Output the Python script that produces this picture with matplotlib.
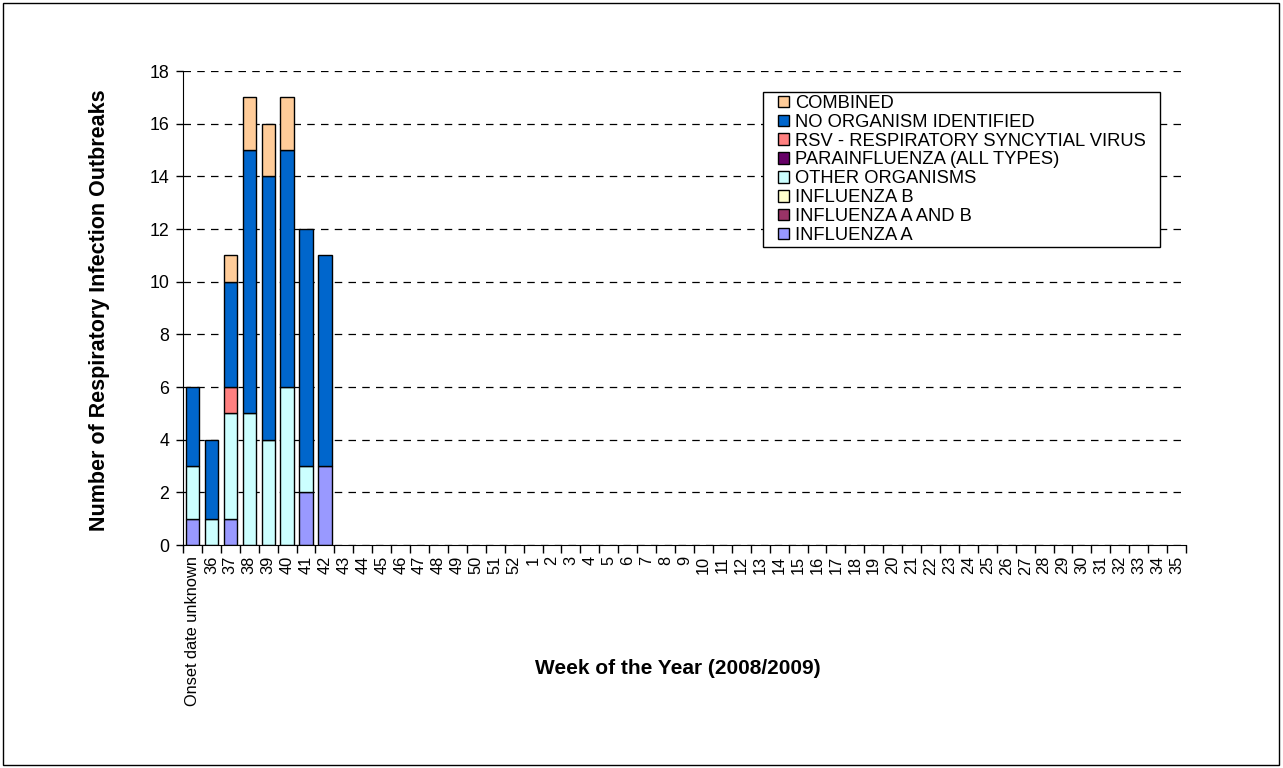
import numpy as np
import matplotlib.pyplot as plt
from matplotlib.patches import Rectangle, Patch

plt.rcParams['font.family'] = ['Liberation Sans', 'DejaVu Sans']

W, H = 1283, 768

# Categories: unknown onset, weeks 36-52 of 2008, weeks 1-35 of 2009
weeks = ['Onset date unknown'] + [str(w) for w in range(36, 53)] + [str(w) for w in range(1, 36)]
n = len(weeks)

def pad(vals):
    return np.array(vals + [0] * (n - len(vals)), dtype=float)

# Values, first eight categories (rest are zero)
influenza_a = pad([1, 0, 1, 0, 0, 0, 2, 3])
influenza_ab = pad([0, 0, 0, 0, 0, 0, 0, 0])
influenza_b = pad([0, 0, 0, 0, 0, 0, 0, 0])
other_org = pad([2, 1, 4, 5, 4, 6, 1, 0])
parainfluenza = pad([0, 0, 0, 0, 0, 0, 0, 0])
rsv = pad([0, 0, 1, 0, 0, 0, 0, 0])
no_organism = pad([3, 3, 4, 10, 10, 9, 9, 8])
combined = pad([0, 0, 1, 2, 2, 2, 0, 0])

series = [
    ('INFLUENZA A', influenza_a, '#9999FF'),
    ('INFLUENZA A AND B', influenza_ab, '#993366'),
    ('INFLUENZA B', influenza_b, '#FFFFCC'),
    ('OTHER ORGANISMS', other_org, '#CCFFFF'),
    ('PARAINFLUENZA (ALL TYPES)', parainfluenza, '#660066'),
    ('RSV - RESPIRATORY SYNCYTIAL VIRUS', rsv, '#FF8080'),
    ('NO ORGANISM IDENTIFIED', no_organism, '#0066CC'),
    ('COMBINED', combined, '#FFCC99'),
]

fig = plt.figure(figsize=(W / 100, H / 100), dpi=100)
ax = fig.add_axes([183 / W, 1 - 545 / H, (1186 - 183) / W, (545 - 71) / H])

# Outer chart border
fig.patches.append(Rectangle((3 / W, 3 / H), 1276 / W, 762 / H,
                             transform=fig.transFigure, fill=False,
                             edgecolor='black', linewidth=1))

x = np.arange(n)
bottom = np.zeros(n)
for name, vals, color in series:
    # skip empty segments so nothing is drawn on the baseline
    m = vals > 0
    ax.bar(x[m], vals[m], width=0.7, bottom=bottom[m], color=color,
           edgecolor='black', linewidth=1)
    bottom += vals

ax.set_xlim(-0.5, n - 0.5)
ax.set_ylim(0, 18)
ax.set_yticks(range(0, 19, 2))
ax.yaxis.grid(True, linestyle=(0, (6, 5)), color='black', linewidth=0.9)
ax.set_axisbelow(True)

ax.set_xticks(x)
ax.set_xticklabels(weeks, rotation=90, fontsize=11.8)
ax.set_xticks(np.arange(-0.5, n, 1), minor=True)
ax.tick_params(axis='x', which='major', length=0, pad=8)
ax.tick_params(axis='x', which='minor', length=6, direction='out', width=1)
ax.tick_params(axis='y', length=5, direction='out', labelsize=12.8, width=1, pad=5)

for side in ['top', 'right']:
    ax.spines[side].set_visible(False)
ax.spines['left'].set_color('black')
ax.spines['bottom'].set_color('black')

fig.text(678 / W, 1 - 668 / H, 'Week of the Year (2008/2009)',
         ha='center', va='center', fontsize=15, fontweight='bold')
fig.text(100 / W, 1 - 310 / H, 'Number of Respiratory Infection Outbreaks',
         ha='center', va='center', rotation=90, fontsize=15.5, fontweight='bold')

# Legend box drawn by hand, entries placed inside it
ax.add_patch(Rectangle((763 / W, 1 - 247 / H), (1160 - 763) / W, (247 - 92) / H,
                       transform=fig.transFigure, facecolor='white',
                       edgecolor='black', linewidth=1, zorder=4, clip_on=False))
handles = [Patch(facecolor=c, edgecolor='black', linewidth=1, label=nm)
           for nm, _, c in series][::-1]
leg = ax.legend(handles=handles,
                loc='upper left', bbox_to_anchor=(778 / W, 1 - 95 / H),
                bbox_transform=fig.transFigure,
                fontsize=13.2, frameon=False, handlelength=0.6, handleheight=0.6,
                handletextpad=0.33, labelspacing=0.1, borderpad=0,
                borderaxespad=0)
leg.set_zorder(5)

fig.savefig('out.png', dpi=100)
